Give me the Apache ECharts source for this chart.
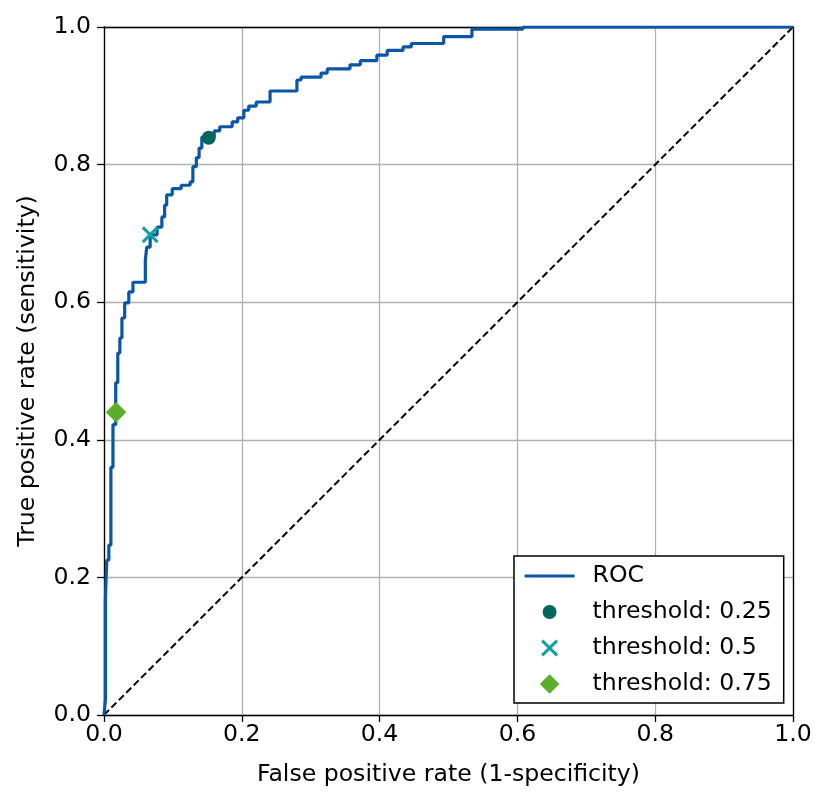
<!DOCTYPE html>
<html>
<head>
<meta charset="utf-8">
<script src="https://cdn.jsdelivr.net/npm/echarts@6/dist/echarts.min.js"></script>
<style>html,body{margin:0;padding:0;background:#fff;}#c{width:830px;height:805px;}</style>
</head>
<body>
<div id="c"></div>
<script>
// ROC curve vertices
var rocFpr = [0, 0.002, 0.002, 0.004, 0.004, 0.007, 0.007, 0.010, 0.010, 0.013, 0.013, 0.017, 0.017, 0.020, 0.020, 0.023, 0.023, 0.026, 0.026, 0.030, 0.030, 0.036, 0.036, 0.042, 0.042, 0.060, 0.060, 0.062, 0.062, 0.067, 0.067, 0.077, 0.077, 0.084, 0.084, 0.088, 0.088, 0.091, 0.091, 0.099, 0.099, 0.112, 0.112, 0.125, 0.125, 0.129, 0.129, 0.134, 0.134, 0.138, 0.138, 0.142, 0.142, 0.160, 0.160, 0.168, 0.168, 0.186, 0.186, 0.194, 0.194, 0.203, 0.203, 0.210, 0.210, 0.221, 0.221, 0.241, 0.241, 0.280, 0.280, 0.286, 0.286, 0.315, 0.315, 0.324, 0.324, 0.357, 0.357, 0.372, 0.372, 0.396, 0.396, 0.411, 0.411, 0.434, 0.434, 0.446, 0.446, 0.493, 0.493, 0.534, 0.534, 0.608, 0.608, 1.0];
var rocTpr = [0, 0.022, 0.167, 0.167, 0.225, 0.225, 0.247, 0.247, 0.360, 0.360, 0.422, 0.422, 0.483, 0.483, 0.526, 0.526, 0.548, 0.548, 0.577, 0.577, 0.599, 0.599, 0.615, 0.615, 0.629, 0.629, 0.661, 0.661, 0.680, 0.680, 0.698, 0.698, 0.709, 0.709, 0.724, 0.724, 0.741, 0.741, 0.756, 0.756, 0.765, 0.765, 0.770, 0.770, 0.775, 0.775, 0.797, 0.797, 0.810, 0.810, 0.824, 0.824, 0.840, 0.840, 0.849, 0.849, 0.855, 0.855, 0.862, 0.862, 0.868, 0.868, 0.879, 0.879, 0.885, 0.885, 0.891, 0.891, 0.907, 0.907, 0.923, 0.923, 0.927, 0.927, 0.933, 0.933, 0.939, 0.939, 0.945, 0.945, 0.951, 0.951, 0.959, 0.959, 0.966, 0.966, 0.971, 0.971, 0.976, 0.976, 0.986, 0.986, 0.997, 0.997, 1.0, 1.0];
var thresholdNames = ['threshold: 0.25', 'threshold: 0.5', 'threshold: 0.75'];
var thresholdFpr = [0.152, 0.067, 0.0175];
var thresholdTpr = [0.839, 0.698, 0.440];
var diagX = [0, 1];
var diagY = [0, 1];

var FONT = 'DejaVu Sans';
var FS = 23.6;
function pairs(xs, ys) { return xs.map(function (x, i) { return [x, ys[i]]; }); }

var circlePath = 'path://M0,0 M20,20 M3,10 A7,7 0 1 1 17,10 A7,7 0 1 1 3,10 Z';
var xPath = 'path://M0,0 M20,20 M1.5,3.7 L3.7,1.5 L10,7.8 L16.3,1.5 L18.5,3.7 L12.2,10 L18.5,16.3 L16.3,18.5 L10,12.2 L3.7,18.5 L1.5,16.3 L7.8,10 Z';
var diamondPath = 'path://M0,0 M20,20 M10,0.2 L19.8,10 L10,19.8 L0.2,10 Z';

var chart = echarts.init(document.getElementById('c'), null, { renderer: 'canvas' });
var axisCommon = {
  type: 'value', min: 0, max: 1, interval: 0.2,
  axisLine: { show: true, lineStyle: { color: '#000', width: 1.3 } },
  axisTick: { show: true, inside: false, length: 7, lineStyle: { color: '#000', width: 1.3 } },
  splitLine: { show: true, lineStyle: { color: '#b0b0b0', width: 1.3 } },
  axisLabel: { color: '#000', fontFamily: FONT, fontSize: FS,
    formatter: function (v) { return v.toFixed(1); } },
  nameLocation: 'middle',
  nameTextStyle: { color: '#000', fontFamily: FONT, fontSize: FS }
};
var spine = {
  type: 'value', min: 0, max: 1, interval: 0.2,
  axisLine: { show: true, onZero: false, lineStyle: { color: '#000', width: 1.3 } },
  axisTick: { show: false }, axisLabel: { show: false }, splitLine: { show: false }
};
var option = {
  animation: false,
  backgroundColor: '#fff',
  grid: { left: 104, right: 37, top: 27, bottom: 90, show: false },
  xAxis: [
    Object.assign({}, axisCommon, { name: 'False positive rate (1-specificity)', nameGap: 48,
      axisLabel: Object.assign({}, axisCommon.axisLabel, { margin: 8 }) }),
    Object.assign({}, spine, { position: 'top' })
  ],
  yAxis: [
    Object.assign({}, axisCommon, { name: 'True positive rate (sensitivity)', nameGap: 64,
      axisLabel: Object.assign({}, axisCommon.axisLabel, { margin: 13 }) }),
    Object.assign({}, spine, { position: 'right' })
  ],
  legend: {
    orient: 'vertical', left: 514, top: 556,
    padding: [8, 12, 7, 9],
    itemWidth: 50, itemHeight: 20, itemGap: 12,
    backgroundColor: '#fff', borderColor: '#000', borderWidth: 1.5, borderRadius: 0,
    lineStyle: { width: 3.2 },
    textStyle: { color: '#000', fontFamily: FONT, fontSize: FS, lineHeight: 24, padding: [0, 0, 0, 13] },
    data: [{ name: 'ROC', itemStyle: { opacity: 0 } }].concat(thresholdNames)
  },
  series: [
    { name: 'diag', type: 'line', data: pairs(diagX, diagY), symbol: 'none', silent: true, z: 2,
      lineStyle: { color: '#000', width: 2, type: [7, 3.5] } },
    { name: 'ROC', type: 'line', data: pairs(rocFpr, rocTpr), symbol: 'none', showSymbol: false, z: 3,
      lineStyle: { color: '#0b56a4', width: 3.2 }, itemStyle: { color: '#0b56a4' } },
    { name: thresholdNames[0], type: 'scatter', data: [[thresholdFpr[0], thresholdTpr[0]]], symbol: circlePath, symbolSize: 20, z: 5,
      itemStyle: { color: '#01665e', opacity: 1 } },
    { name: thresholdNames[1], type: 'scatter', data: [[thresholdFpr[1], thresholdTpr[1]]], symbol: xPath, symbolSize: 20, z: 5,
      itemStyle: { color: '#17a09c', opacity: 1 } },
    { name: thresholdNames[2], type: 'scatter', data: [[thresholdFpr[2], thresholdTpr[2]]], symbol: diamondPath, symbolSize: 21, z: 5,
      itemStyle: { color: '#5aae2a', opacity: 1 } }
  ]
};
chart.setOption(option);
</script>
</body>
</html>
